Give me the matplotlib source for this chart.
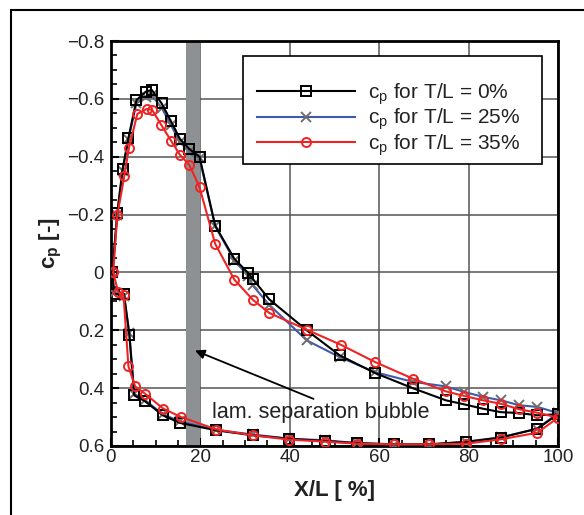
import matplotlib
matplotlib.use("Agg")
import matplotlib.pyplot as plt
from matplotlib.patches import Rectangle

plt.rcParams['font.family'] = ['Liberation Sans', 'DejaVu Sans']
plt.rcParams['mathtext.fontset'] = 'custom'
plt.rcParams['mathtext.rm'] = 'Liberation Sans'
plt.rcParams['mathtext.it'] = 'Liberation Sans:italic'
plt.rcParams['mathtext.bf'] = 'Liberation Sans:bold'

# ---- data: upper (suction) side ----
x_up0 = [0.3, 1.4, 2.6, 3.9, 5.7, 7.8, 9.1, 11.3, 13.4, 15.4, 17.5, 19.8, 23.3, 27.6, 30.7, 31.7, 35.4, 43.8, 51.2, 59.1, 67.5, 74.9, 79.0, 83.2, 87.2, 91.3, 95.4, 100.0]
cp_up0 = [0.0, -0.205, -0.358, -0.465, -0.596, -0.625, -0.631, -0.585, -0.523, -0.462, -0.427, -0.40, -0.162, -0.047, 0.002, 0.022, 0.093, 0.20, 0.287, 0.348, 0.40, 0.442, 0.456, 0.471, 0.483, 0.486, 0.494, 0.49]
cp_up25 = [0.0, -0.20, -0.35, -0.46, -0.585, -0.605, -0.612, -0.57, -0.51, -0.45, -0.418, -0.395, -0.16, -0.041, 0.012, 0.045, 0.112, 0.235, 0.293, 0.345, 0.378, 0.394, 0.413, 0.43, 0.442, 0.459, 0.465, 0.486]
x_up35 = [0.5, 1.4, 3.0, 4.0, 5.9, 8.0, 9.2, 11.2, 13.4, 15.4, 17.5, 19.8, 23.3, 27.6, 31.7, 35.4, 43.8, 51.4, 59.1, 67.5, 74.9, 79.0, 83.2, 87.2, 91.3, 95.4, 100.0]
cp_up35 = [0.0, -0.197, -0.335, -0.43, -0.548, -0.565, -0.562, -0.511, -0.456, -0.407, -0.372, -0.295, -0.099, 0.025, 0.094, 0.14, 0.198, 0.25, 0.31, 0.367, 0.411, 0.427, 0.442, 0.454, 0.473, 0.485, 0.502]

# ---- data: lower (pressure) side ----
x_lo0 = [0.3, 0.7, 2.9, 4.1, 5.2, 7.5, 11.6, 15.4, 23.6, 31.7, 39.9, 47.9, 55.0, 63.2, 71.2, 79.4, 87.2, 95.4, 100.0]
cp_lo0 = [0.0, 0.074, 0.074, 0.215, 0.425, 0.444, 0.494, 0.52, 0.546, 0.563, 0.575, 0.583, 0.59, 0.594, 0.594, 0.586, 0.571, 0.54, 0.49]
cp_lo25 = [0.0, 0.07, 0.08, 0.21, 0.42, 0.44, 0.49, 0.515, 0.545, 0.56, 0.575, 0.58, 0.59, 0.595, 0.595, 0.585, 0.57, 0.54, 0.486]
x_lo35 = [0.5, 1.6, 2.8, 3.9, 5.4, 7.6, 11.7, 15.7, 23.6, 31.7, 39.9, 47.9, 55.0, 63.2, 71.2, 79.4, 87.2, 95.4, 100.0]
cp_lo35 = [0.0, 0.068, 0.079, 0.325, 0.394, 0.419, 0.471, 0.50, 0.543, 0.563, 0.578, 0.585, 0.592, 0.594, 0.594, 0.592, 0.577, 0.554, 0.502]

labels = [r"c$_\mathregular{p}$ for T/L = 0%", r"c$_\mathregular{p}$ for T/L = 25%", r"c$_\mathregular{p}$ for T/L = 35%"]
band = (16.7, 20.0)
annot_text = "lam. separation bubble"
xticks = [0, 20, 40, 60, 80, 100]
yticks = [-0.8, -0.6, -0.4, -0.2, 0, 0.2, 0.4, 0.6]
ytick_labels = ["\u22120.8", "\u22120.6", "\u22120.4", "\u22120.2", "0", "0.2", "0.4", "0.6"]

fig = plt.figure(figsize=(5.84, 5.15), dpi=100)
ax = fig.add_axes([111/584, 1-446/515, 447/584, 405/515])

# figure border
fig.patches.append(Rectangle((11/584, -0.1), 1.2, 1.1 - 10/515, transform=fig.transFigure,
                             fill=False, edgecolor='black', linewidth=1.5))

ax.axvspan(band[0], band[1], color='#8e9194', zorder=1.5, linewidth=0)

c_black = 'black'
c_blue = '#3f5aa8'
c_gray = '#6e6e6e'
c_red = '#ee2424'
ms = 6.5
mew = 1.4
lw = 1.5

# 25%
ax.plot(x_up0, cp_up25, color=c_blue, lw=lw, marker='x', ms=ms, mec=c_gray, mew=mew, zorder=3, label=labels[1])
ax.plot(x_lo0, cp_lo25, color=c_blue, lw=lw, marker='x', ms=ms, mec=c_gray, mew=mew, zorder=3)
# 0%
ax.plot(x_up0, cp_up0, color=c_black, lw=lw, marker='s', ms=ms, mfc='none', mec=c_black, mew=mew, zorder=4, label=labels[0])
ax.plot(x_lo0, cp_lo0, color=c_black, lw=lw, marker='s', ms=ms, mfc='none', mec=c_black, mew=mew, zorder=4)
# 35%
ax.plot(x_up35, cp_up35, color=c_red, lw=lw, marker='o', ms=ms, mfc='none', mec=c_red, mew=mew, zorder=5, label=labels[2])
ax.plot(x_lo35, cp_lo35, color=c_red, lw=lw, marker='o', ms=ms, mfc='none', mec=c_red, mew=mew, zorder=5)

ax.set_xlim(0, 100)
ax.set_ylim(0.6, -0.8)
ax.set_xticks(xticks)
ax.set_yticks(yticks)
ax.set_yticklabels(ytick_labels)
ax.set_xticks(range(0, 101, 5), minor=True)
ax.set_yticks([-0.8 + 0.05*i for i in range(29)], minor=True)
ax.grid(True, which='major', color='#555555', linewidth=1.1, zorder=1)
ax.set_axisbelow(True)
ax.tick_params(which='both', direction='in', top=False, right=False, labelsize=13.5, colors='black')
ax.tick_params(axis='y', pad=5)
ax.tick_params(axis='x', pad=2)
ax.tick_params(which='major', length=6, width=1.5)
ax.tick_params(which='minor', length=4, width=1.2)
for lab in ax.get_xticklabels() + ax.get_yticklabels():
    lab.set_color('#222222')
for s in ax.spines.values():
    s.set_linewidth(2)

ax.set_xlabel(r"X/L [ %]", fontsize=16, fontweight='bold', color='#222222')
ax.set_ylabel(r"$\mathbf{c_p}$ [-]", fontsize=16, fontweight='bold', color='#222222')
ax.yaxis.set_label_coords(-0.105, 0.5)
ax.xaxis.set_label_coords(0.5, -0.085)

# legend frame drawn as a box in axes coordinates
ax.add_patch(Rectangle((0.296, 0.6956), 0.9636 - 0.296, 0.963 - 0.6956, transform=ax.transAxes,
                       facecolor='white', edgecolor='black', linewidth=1.2, zorder=6))

handles, labs = ax.get_legend_handles_labels()
order = [1, 0, 2]
leg = ax.legend([handles[i] for i in order], [labs[i] for i in order],
                loc='center left', bbox_to_anchor=(0.326, 0.806), borderaxespad=0, borderpad=0,
                fontsize=15, handlelength=4.7, handletextpad=0.62, labelspacing=0.0,
                frameon=False)
leg.set_zorder(7)
for t in leg.get_texts():
    t.set_color('#222222')

ax.annotate(annot_text, xy=(18.8, 0.27), xytext=(22.5, 0.483),
            fontsize=15.5, color='#222222', va='center', ha='left',
            arrowprops=dict(arrowstyle='-|>', color='black', lw=1.3, shrinkA=0, shrinkB=0,
                            mutation_scale=14, relpos=(0.5, 1.0)), zorder=6)

fig.savefig('out.png', dpi=100)
